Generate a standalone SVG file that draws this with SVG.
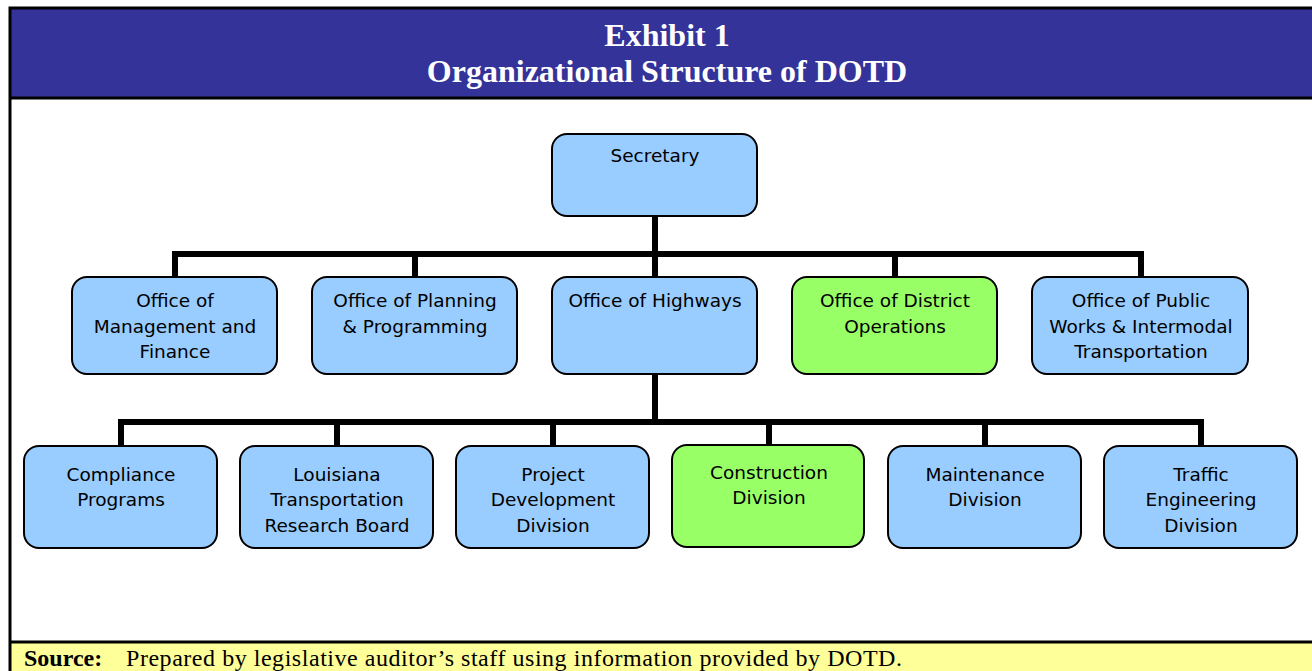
<svg xmlns="http://www.w3.org/2000/svg" width="1312" height="671" viewBox="0 0 1312 671">
  <style>
    .box { fill: #99CCFF; stroke: #000; stroke-width: 2; }
    .hi { fill: #99FF66; stroke: #000; stroke-width: 2; }
    .lbl { font-family: "DejaVu Sans", Verdana, sans-serif; font-size: 18.5px; fill: #000; text-anchor: middle; }
    .title { font-family: "Liberation Serif", "Times New Roman", serif; font-size: 32px; font-weight: bold; fill: #fff; text-anchor: middle; }
    .src { font-family: "Liberation Serif", "Times New Roman", serif; font-size: 24px; fill: #000; }
    .wire { fill: none; stroke: #000; stroke-width: 6; }
  </style>

  <!-- frame, header band and footer band -->
  <rect x="0" y="0" width="1312" height="671" fill="#fff"/>
  <rect x="10" y="8" width="1310" height="90" fill="#333399"/>
  <rect x="10" y="642" width="1310" height="40" fill="#FFFF99"/>
  <path d="M1320 8 H10 V680" fill="none" stroke="#000" stroke-width="3"/>
  <line x1="10" y1="98" x2="1320" y2="98" stroke="#000" stroke-width="3"/>
  <line x1="10" y1="642" x2="1320" y2="642" stroke="#000" stroke-width="3"/>

  <text class="title" x="667" y="46">Exhibit 1</text>
  <text class="title" x="667" y="82">Organizational Structure of DOTD</text>

  <text class="src" x="24" y="666" font-weight="bold">Source:</text>
  <text class="src" x="126" y="666" textLength="776" lengthAdjust="spacing">Prepared by legislative auditor’s staff using information provided by DOTD.</text>

  <!-- connectors -->
  <g id="connectors">
    <path class="wire" d="M655 215 V277"/>
    <path class="wire" d="M175 277 V254 H1141 V277"/>
    <path class="wire" d="M415 254 V277 M895 254 V277"/>
    <path class="wire" d="M655 374 V422"/>
    <path class="wire" d="M121 446 V422 H1201 V446"/>
    <path class="wire" d="M337 422 V446 M553 422 V446 M769 422 V446 M985 422 V446"/>
  </g>

  <!-- top level -->
  <g id="secretary">
    <rect class="box" x="552" y="134" width="205" height="82" rx="15"/>
    <text class="lbl" x="655" y="162">Secretary</text>
  </g>

  <!-- offices -->
  <g id="office-management-finance">
    <rect class="box" x="72" y="277" width="205" height="97" rx="15"/>
    <text class="lbl" x="175" y="307">Office of</text>
    <text class="lbl" x="175" y="333">Management and</text>
    <text class="lbl" x="175" y="358">Finance</text>
  </g>
  <g id="office-planning">
    <rect class="box" x="312" y="277" width="205" height="97" rx="15"/>
    <text class="lbl" x="415" y="307">Office of Planning</text>
    <text class="lbl" x="415" y="333">&amp; Programming</text>
  </g>
  <g id="office-highways">
    <rect class="box" x="552" y="277" width="205" height="97" rx="15"/>
    <text class="lbl" x="655" y="307">Office of Highways</text>
  </g>
  <g id="office-district-operations">
    <rect class="hi" x="792" y="277" width="205" height="97" rx="15"/>
    <text class="lbl" x="895" y="307">Office of District</text>
    <text class="lbl" x="895" y="333">Operations</text>
  </g>
  <g id="office-public-works">
    <rect class="box" x="1032" y="277" width="216" height="97" rx="15"/>
    <text class="lbl" x="1141" y="307">Office of Public</text>
    <text class="lbl" x="1141" y="333">Works &amp; Intermodal</text>
    <text class="lbl" x="1141" y="358">Transportation</text>
  </g>

  <!-- divisions under the Office of Highways -->
  <g id="compliance-programs">
    <rect class="box" x="24" y="446" width="193" height="102" rx="15"/>
    <text class="lbl" x="121" y="481">Compliance</text>
    <text class="lbl" x="121" y="506">Programs</text>
  </g>
  <g id="ltrb">
    <rect class="box" x="240" y="446" width="193" height="102" rx="15"/>
    <text class="lbl" x="337" y="481">Louisiana</text>
    <text class="lbl" x="337" y="506">Transportation</text>
    <text class="lbl" x="337" y="532">Research Board</text>
  </g>
  <g id="project-development">
    <rect class="box" x="456" y="446" width="193" height="102" rx="15"/>
    <text class="lbl" x="553" y="481">Project</text>
    <text class="lbl" x="553" y="506">Development</text>
    <text class="lbl" x="553" y="532">Division</text>
  </g>
  <g id="construction">
    <rect class="hi" x="672" y="445" width="192" height="102" rx="15"/>
    <text class="lbl" x="769" y="479">Construction</text>
    <text class="lbl" x="769" y="504">Division</text>
  </g>
  <g id="maintenance">
    <rect class="box" x="888" y="446" width="193" height="102" rx="15"/>
    <text class="lbl" x="985" y="481">Maintenance</text>
    <text class="lbl" x="985" y="506">Division</text>
  </g>
  <g id="traffic-engineering">
    <rect class="box" x="1104" y="446" width="193" height="102" rx="15"/>
    <text class="lbl" x="1201" y="481">Traffic</text>
    <text class="lbl" x="1201" y="506">Engineering</text>
    <text class="lbl" x="1201" y="532">Division</text>
  </g>
</svg>
